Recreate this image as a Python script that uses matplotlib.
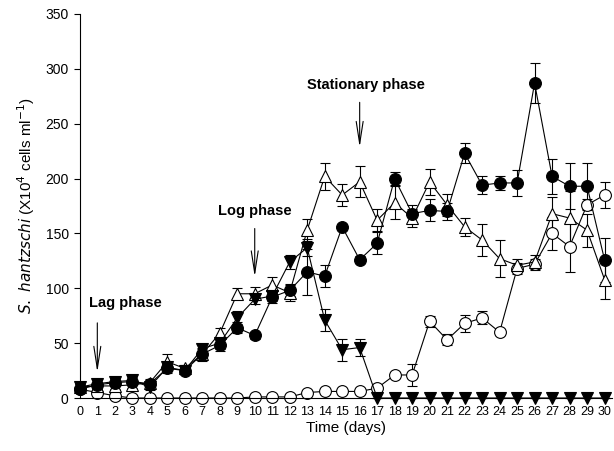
import numpy as np
import matplotlib.pyplot as plt

plt.rcParams['font.family'] = ['Liberation Sans', 'DejaVu Sans']

days = np.arange(0, 31)

# filled circles
fc_val = [8, 12, 14, 15, 13, 27, 25, 40, 48, 64, 57, 92, 98, 115, 111, 156, 126,
          141, 200, 168, 171, 170, 223, 194, 196, 196, 287, 202, 193, 193, 126]
fc_err = [3, 3, 3, 3, 3, 4, 3, 5, 5, 5, 3, 5, 5, 21, 10, 3, 3,
          10, 6, 8, 10, 8, 9, 8, 6, 12, 18, 16, 21, 21, 20]

# filled down triangles
dt_val = [10, 13, 15, 16, 10, 28, 25, 45, 50, 73, 90, 93, 124, 137, 71, 44, 46,
          0, 0, 0, 0, 0, 0, 0, 0, 0, 0, 0, 0, 0, 0]
dt_err = [3, 3, 3, 3, 3, 3, 3, 4, 5, 6, 4, 5, 6, 8, 10, 10, 8,
          0, 0, 0, 0, 0, 0, 0, 0, 0, 0, 0, 0, 0, 0]

# open triangles
ot_val = [10, 11, 11, 12, 14, 33, 27, 40, 59, 95, 95, 103, 96, 153, 202, 185, 197,
          162, 178, 164, 197, 176, 156, 144, 127, 121, 124, 168, 164, 153, 108]
ot_err = [3, 3, 3, 3, 3, 7, 3, 6, 5, 5, 6, 7, 8, 10, 12, 10, 14,
          10, 15, 8, 12, 10, 8, 15, 17, 6, 6, 15, 25, 15, 18]

# open circles
oc_val = [8, 5, 2, 0, 0, 0, 0, 0, 0, 0, 1, 1, 1, 5, 6, 6, 6,
          9, 21, 21, 70, 53, 68, 73, 60, 118, 122, 150, 138, 176, 185]
oc_err = [0, 0, 0, 0, 0, 0, 0, 0, 0, 0, 1, 1, 2, 2, 2, 2, 2,
          3, 3, 10, 5, 5, 8, 6, 3, 5, 5, 15, 23, 5, 12]

fig = plt.figure(figsize=(6.14, 4.51), dpi=100)
ax = fig.add_axes([0.130, 0.1175, 0.866, 0.8515])

kw = dict(color='black', lw=0.8, elinewidth=0.8, capsize=3.5, capthick=0.8,
          ms=8.5, markeredgecolor='black', markeredgewidth=0.8, clip_on=False)
ax.errorbar(days, oc_val, yerr=oc_err, marker='o', markerfacecolor='white', **kw)
ax.errorbar(days, ot_val, yerr=ot_err, marker='^', markerfacecolor='white', **kw)
ax.errorbar(days, dt_val, yerr=dt_err, marker='v', markerfacecolor='black', **kw)
ax.errorbar(days, fc_val, yerr=fc_err, marker='o', markerfacecolor='black', **kw)

ax.set_xlim(0, 30.4)
ax.set_ylim(0, 350)
ax.set_xticks(days)
ax.set_yticks(np.arange(0, 351, 50))
ax.tick_params(axis='x', length=0, labelsize=9, pad=6)
ax.tick_params(axis='y', direction='out', length=4, labelsize=10, pad=4)
for s in ['top', 'right']:
    ax.spines[s].set_visible(False)
ax.spines['left'].set_linewidth(0.8)
ax.spines['bottom'].set_linewidth(0.8)

ax.set_xlabel('Time (days)', fontsize=11, labelpad=2)
ax.set_ylabel(r'$\it{S.\ hantzschi}$ (X10$^4$ cells ml$^{-1}$)', fontsize=11, labelpad=6)

arrow = dict(arrowstyle='->,head_length=1.6,head_width=0.25', color='black', lw=0.8)
ax.annotate('Lag phase', xy=(1, 21), xytext=(2.6, 87), ha='center', va='center',
            fontsize=10.5, fontweight='bold')
ax.annotate('', xy=(1, 21), xytext=(1, 71), arrowprops=arrow)
ax.annotate('Log phase', xy=(10, 108), xytext=(10, 170), ha='center', va='center',
            fontsize=10.5, fontweight='bold')
ax.annotate('', xy=(10, 108), xytext=(10, 157), arrowprops=arrow)
ax.annotate('Stationary phase', xy=(16, 226), xytext=(16.35, 285), ha='center', va='center',
            fontsize=10.5, fontweight='bold')
ax.annotate('', xy=(16, 226), xytext=(16, 272), arrowprops=arrow)

fig.savefig('out.png', dpi=100)
